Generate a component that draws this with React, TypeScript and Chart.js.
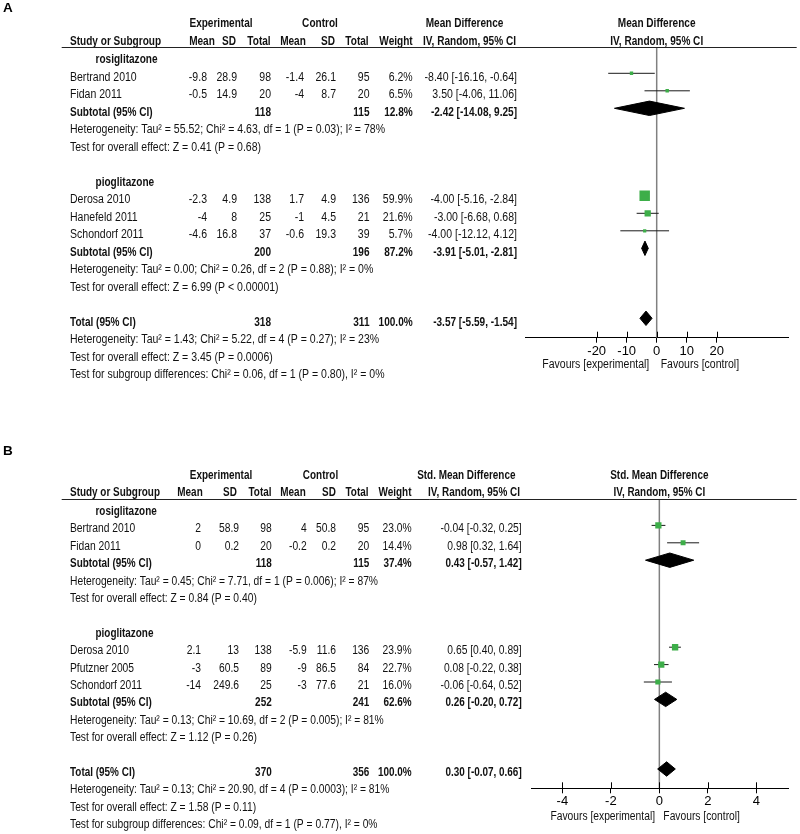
import React, { useEffect, useRef } from "react";
import { Chart, registerables } from "chart.js";
Chart.register(...registerables);

// ---------------- Panel A data (Mean Difference) ----------------
const aGroupNames = ["rosiglitazone", "pioglitazone"];
const aStudies = ["Bertrand 2010", "Fidan 2011", "Derosa 2010", "Hanefeld 2011", "Schondorf 2011"];
const aStudyGroup = [0, 0, 1, 1, 1];
const aExpMean = [-9.8, -0.5, -2.3, -4, -4.6];
const aExpSD = [28.9, 14.9, 4.9, 8, 16.8];
const aExpN = [98, 20, 138, 25, 37];
const aCtlMean = [-1.4, -4, 1.7, -1, -0.6];
const aCtlSD = [26.1, 8.7, 4.9, 4.5, 19.3];
const aCtlN = [95, 20, 136, 21, 39];
const aWeight = [6.2, 6.5, 59.9, 21.6, 5.7];
const aEst = [-8.4, 3.5, -4.0, -3.0, -4.0];
const aLo = [-16.16, -4.06, -5.16, -6.68, -12.12];
const aHi = [-0.64, 11.06, -2.84, 0.68, 4.12];
const aSubExpN = [118, 200];
const aSubCtlN = [115, 196];
const aSubWeight = [12.8, 87.2];
const aSubEst = [-2.42, -3.91];
const aSubLo = [-14.08, -5.01];
const aSubHi = [9.25, -2.81];
const aSubHet = [
  "Heterogeneity: Tau² = 55.52; Chi² = 4.63, df = 1 (P = 0.03); I² = 78%",
  "Heterogeneity: Tau² = 0.00; Chi² = 0.26, df = 2 (P = 0.88); I² = 0%",
];
const aSubTest = [
  "Test for overall effect: Z = 0.41 (P = 0.68)",
  "Test for overall effect: Z = 6.99 (P < 0.00001)",
];
const aTotal = { expN: 318, ctlN: 311, weight: 100.0, est: -3.57, lo: -5.59, hi: -1.54 };
const aTotalText = [
  "Heterogeneity: Tau² = 1.43; Chi² = 5.22, df = 4 (P = 0.27); I² = 23%",
  "Test for overall effect: Z = 3.45 (P = 0.0006)",
  "Test for subgroup differences: Chi² = 0.06, df = 1 (P = 0.80), I² = 0%",
];
const aTicks = [-20, -10, 0, 10, 20];

// ---------------- Panel B data (Std. Mean Difference) ----------------
const bGroupNames = ["rosiglitazone", "pioglitazone"];
const bStudies = ["Bertrand 2010", "Fidan 2011", "Derosa 2010", "Pfutzner 2005", "Schondorf 2011"];
const bStudyGroup = [0, 0, 1, 1, 1];
const bExpMean = [2, 0, 2.1, -3, -14];
const bExpSD = [58.9, 0.2, 13, 60.5, 249.6];
const bExpN = [98, 20, 138, 89, 25];
const bCtlMean = [4, -0.2, -5.9, -9, -3];
const bCtlSD = [50.8, 0.2, 11.6, 86.5, 77.6];
const bCtlN = [95, 20, 136, 84, 21];
const bWeight = [23.0, 14.4, 23.9, 22.7, 16.0];
const bEst = [-0.04, 0.98, 0.65, 0.08, -0.06];
const bLo = [-0.32, 0.32, 0.4, -0.22, -0.64];
const bHi = [0.25, 1.64, 0.89, 0.38, 0.52];
const bSubExpN = [118, 252];
const bSubCtlN = [115, 241];
const bSubWeight = [37.4, 62.6];
const bSubEst = [0.43, 0.26];
const bSubLo = [-0.57, -0.2];
const bSubHi = [1.42, 0.72];
const bSubHet = [
  "Heterogeneity: Tau² = 0.45; Chi² = 7.71, df = 1 (P = 0.006); I² = 87%",
  "Heterogeneity: Tau² = 0.13; Chi² = 10.69, df = 2 (P = 0.005); I² = 81%",
];
const bSubTest = [
  "Test for overall effect: Z = 0.84 (P = 0.40)",
  "Test for overall effect: Z = 1.12 (P = 0.26)",
];
const bTotal = { expN: 370, ctlN: 356, weight: 100.0, est: 0.3, lo: -0.07, hi: 0.66 };
const bTotalText = [
  "Heterogeneity: Tau² = 0.13; Chi² = 20.90, df = 4 (P = 0.0003); I² = 81%",
  "Test for overall effect: Z = 1.58 (P = 0.11)",
  "Test for subgroup differences: Chi² = 0.09, df = 1 (P = 0.77), I² = 0%",
];
const bTicks = [-4, -2, 0, 2, 4];

// ---------------- styling ----------------
const FONT = "'Liberation Sans Narrow', 'Liberation Sans', Arial, sans-serif";
const FS = 12.5;
const GREEN = "#3dae49";
const TEXT = "#111";

type Panel = {
  letter: string; effectLabel: string;
  top: number; height: number; letterY: number;
  hdr1Y: number; hdr2Y: number; underlineY: number; axisY: number;
  rowY0: number; rowGap: number; markOff: number;
  areaL: number; areaR: number; xMin: number; xMax: number; ticks: number[];
  tickLen: number; tickUp: number; tickPad: number; tickFS: number;
  favDy: number; favGapL: number; favGapR: number; favFS: number;
  hetTargetW: number; boldTargetW: number;
  studyX: number; groupX: number; colX: number[]; hdr2X: number[];
  expHdrX: number; ctlHdrX: number; effHdrX: number;
  sqK: number; diamondHalf: number;
  groupNames: string[]; studies: string[]; group: number[];
  expMean: number[]; expSD: number[]; expN: number[];
  ctlMean: number[]; ctlSD: number[]; ctlN: number[];
  weight: number[]; est: number[]; lo: number[]; hi: number[];
  subExpN: number[]; subCtlN: number[]; subWeight: number[];
  subEst: number[]; subLo: number[]; subHi: number[];
  subHet: string[]; subTest: string[];
  total: { expN: number; ctlN: number; weight: number; est: number; lo: number; hi: number };
  totalText: string[];
};

const panelA: Panel = {
  letter: "A", effectLabel: "Mean Difference",
  top: 0, height: 400, letterY: 8.7,
  hdr1Y: 23.3, hdr2Y: 41.3, underlineY: 47.3, axisY: 337.7,
  rowY0: 77.3, rowGap: 17.5, markOff: 4,
  areaL: 525, areaR: 788.3, xMin: -43.9, xMax: 43.87, ticks: aTicks,
  tickLen: 5, tickUp: 6, tickPad: 1, tickFS: 13,
  favDy: 27.3, favGapL: 7.4, favGapR: 4, favFS: 12.5,
  hetTargetW: 315, boldTargetW: 82.7,
  studyX: 70, groupX: 95.5,
  colX: [207, 237, 271, 304, 336, 369.5, 412.7, 517],
  hdr2X: [202, 229, 259, 293, 328, 357, 396, 469.5],
  expHdrX: 221, ctlHdrX: 320, effHdrX: 464.5,
  sqK: 1.35, diamondHalf: 7.2,
  groupNames: aGroupNames, studies: aStudies, group: aStudyGroup,
  expMean: aExpMean, expSD: aExpSD, expN: aExpN,
  ctlMean: aCtlMean, ctlSD: aCtlSD, ctlN: aCtlN,
  weight: aWeight, est: aEst, lo: aLo, hi: aHi,
  subExpN: aSubExpN, subCtlN: aSubCtlN, subWeight: aSubWeight,
  subEst: aSubEst, subLo: aSubLo, subHi: aSubHi,
  subHet: aSubHet, subTest: aSubTest, total: aTotal, totalText: aTotalText,
};

const panelB: Panel = {
  letter: "B", effectLabel: "Std. Mean Difference",
  top: 420, height: 414, letterY: 451.5,
  hdr1Y: 476, hdr2Y: 492.7, underlineY: 498.7, axisY: 788.3,
  rowY0: 529, rowGap: 17.4, markOff: 3.6,
  areaL: 531.6, areaR: 788.3, xMin: -5.27, xMax: 5.32, ticks: bTicks,
  tickLen: 5, tickUp: 6, tickPad: 0, tickFS: 13,
  favDy: 28.7, favGapL: 4.3, favGapR: 4, favFS: 12.5,
  hetTargetW: 308, boldTargetW: 81.7,
  studyX: 70, groupX: 95.5,
  colX: [201, 239, 271.7, 306.7, 336, 369.3, 411.7, 521.7],
  hdr2X: [190, 230, 260, 293, 329, 357, 395, 474],
  expHdrX: 221, ctlHdrX: 320.5, effHdrX: 466.3,
  sqK: 1.3, diamondHalf: 7.2,
  groupNames: bGroupNames, studies: bStudies, group: bStudyGroup,
  expMean: bExpMean, expSD: bExpSD, expN: bExpN,
  ctlMean: bCtlMean, ctlSD: bCtlSD, ctlN: bCtlN,
  weight: bWeight, est: bEst, lo: bLo, hi: bHi,
  subExpN: bSubExpN, subCtlN: bSubCtlN, subWeight: bSubWeight,
  subEst: bSubEst, subLo: bSubLo, subHi: bSubHi,
  subHet: bSubHet, subTest: bSubTest, total: bTotal, totalText: bTotalText,
};

function rowsFor(groups: number[], nGroups: number) {
  let r = -1;
  const groupRow: number[] = [], subRow: number[] = [], hetRow: number[] = [], testRow: number[] = [];
  const studyRow: number[] = new Array(groups.length).fill(0);
  for (let g = 0; g < nGroups; g++) {
    groupRow.push(r);
    r++;
    groups.forEach((gg, i) => {
      if (gg === g) { studyRow[i] = r; r++; }
    });
    subRow.push(r); hetRow.push(r + 1); testRow.push(r + 2);
    r += 4;
  }
  return { groupRow, studyRow, subRow, hetRow, testRow, totalRow: r, totalTextRows: [r + 1, r + 2, r + 3] };
}

const pct = (w: number) => w.toFixed(1) + "%";
const ci = (e: number, l: number, h: number) => `${e.toFixed(2)} [${l.toFixed(2)}, ${h.toFixed(2)}]`;

function makePlugin(p: Panel) {
  return {
    id: "forestTable" + p.letter,
    afterDraw(chart: any) {
      const ctx: CanvasRenderingContext2D = chart.ctx;
      const ys = chart.scales.y;
      const xs = chart.scales.x;
      const T = p.top;
      const L = rowsFor(p.group, p.groupNames.length);
      const rowY = (r: number) => ys.getPixelForValue(r) + p.markOff;
      ctx.save();
      ctx.font = `${FS}px ${FONT}`;
      const sx = p.hetTargetW / ctx.measureText(p.subHet[0]).width;
      ctx.font = `bold ${FS}px ${FONT}`;
      const sxb = p.boldTargetW / ctx.measureText("Subtotal (95% CI)").width;
      const txt = (s: string, x: number, y: number, align: CanvasTextAlign, bold = false, size = FS) => {
        ctx.save();
        ctx.font = `${bold ? "bold " : ""}${size}px ${FONT}`;
        ctx.textAlign = align;
        ctx.textBaseline = "middle";
        ctx.fillStyle = TEXT;
        ctx.translate(x, y);
        ctx.scale(bold ? sxb : sx, 1);
        ctx.fillText(s, 0, 0);
        ctx.restore();
      };
      // panel letter
      ctx.save();
      ctx.font = "bold 13.5px 'Liberation Sans', Arial, sans-serif";
      ctx.fillStyle = "#000";
      ctx.textBaseline = "middle";
      ctx.fillText(p.letter, 3, p.letterY - T);
      ctx.restore();

      // headers
      const h1 = p.hdr1Y - T, h2 = p.hdr2Y - T;
      txt("Experimental", p.expHdrX, h1, "center", true);
      txt("Control", p.ctlHdrX, h1, "center", true);
      txt(p.effectLabel, p.effHdrX, h1, "center", true);
      const zero = xs.getPixelForValue(0);
      txt(p.effectLabel, zero, h1, "center", true);
      txt("Study or Subgroup", p.studyX, h2, "left", true);
      const hdrs = ["Mean", "SD", "Total", "Mean", "SD", "Total", "Weight", "IV, Random, 95% CI"];
      hdrs.forEach((h, i) => txt(h, p.hdr2X[i], h2, "center", true));
      txt("IV, Random, 95% CI", zero, h2, "center", true);

      // header rule
      ctx.strokeStyle = "#222";
      ctx.lineWidth = 1;
      ctx.beginPath();
      const uy = Math.round(p.underlineY - T) + 0.5;
      ctx.moveTo(61.7, uy);
      ctx.lineTo(796.7, uy);
      ctx.stroke();

      // groups
      p.groupNames.forEach((gn, g) => {
        txt(gn, p.groupX, rowY(L.groupRow[g]), "left", true);
        p.studies.forEach((s, i) => {
          if (p.group[i] !== g) return;
          const y = rowY(L.studyRow[i]);
          txt(s, p.studyX, y, "left");
          const cells = [
            String(p.expMean[i]), String(p.expSD[i]), String(p.expN[i]),
            String(p.ctlMean[i]), String(p.ctlSD[i]), String(p.ctlN[i]),
            pct(p.weight[i]), ci(p.est[i], p.lo[i], p.hi[i]),
          ];
          cells.forEach((c, k) => txt(c, p.colX[k], y, "right"));
        });
        const ys2 = rowY(L.subRow[g]);
        txt("Subtotal (95% CI)", p.studyX, ys2, "left", true);
        txt(String(p.subExpN[g]), p.colX[2], ys2, "right", true);
        txt(String(p.subCtlN[g]), p.colX[5], ys2, "right", true);
        txt(pct(p.subWeight[g]), p.colX[6], ys2, "right", true);
        txt(ci(p.subEst[g], p.subLo[g], p.subHi[g]), p.colX[7], ys2, "right", true);
        txt(p.subHet[g], p.studyX, rowY(L.hetRow[g]), "left");
        txt(p.subTest[g], p.studyX, rowY(L.testRow[g]), "left");
      });
      const yt = rowY(L.totalRow);
      txt("Total (95% CI)", p.studyX, yt, "left", true);
      txt(String(p.total.expN), p.colX[2], yt, "right", true);
      txt(String(p.total.ctlN), p.colX[5], yt, "right", true);
      txt(pct(p.total.weight), p.colX[6], yt, "right", true);
      txt(ci(p.total.est, p.total.lo, p.total.hi), p.colX[7], yt, "right", true);
      p.totalText.forEach((t, k) => txt(t, p.studyX, rowY(L.totalTextRows[k]), "left"));

      // upper halves of axis tick marks
      ctx.strokeStyle = "#000";
      ctx.lineWidth = 1;
      ctx.beginPath();
      for (const t of xs.ticks) {
        const px = Math.round(xs.getPixelForValue(t.value)) + 0.5;
        ctx.moveTo(px, xs.top - p.tickUp);
        ctx.lineTo(px, xs.top);
      }
      ctx.stroke();

      // favours labels
      const fy = xs.top + p.favDy;
      txt("Favours [experimental]", zero - p.favGapL, fy, "right", false, p.favFS);
      txt("Favours [control]", zero + p.favGapR, fy, "left", false, p.favFS);
      ctx.restore();
    },
  };
}

function ForestPanel({ p }: { p: Panel }) {
  const ref = useRef<HTMLCanvasElement>(null);
  useEffect(() => {
    if (!ref.current) return;
    const L = rowsFor(p.group, p.groupNames.length);
    const base = p.rowY0 - p.markOff;
    const yTop = (p.underlineY - base) / p.rowGap;
    const yBot = (p.axisY - base) / p.rowGap;
    const hh = p.diamondHalf / p.rowGap;
    const datasets: any[] = [];
    datasets.push({
      type: "scatter",
      data: p.est.map((e, i) => ({ x: e, y: L.studyRow[i] })),
      pointStyle: "rect",
      pointRadius: p.weight.map((w) => (p.sqK * Math.sqrt(w)) / Math.SQRT2),
      pointBackgroundColor: GREEN,
      pointBorderWidth: 0,
      borderColor: GREEN,
      backgroundColor: GREEN,
      showLine: false,
    });
    const dia = (lo: number, e: number, hi: number, r: number) => ({
      type: "line",
      data: [
        { x: lo, y: r }, { x: e, y: r - hh }, { x: hi, y: r }, { x: e, y: r + hh }, { x: lo, y: r },
      ],
      fill: "shape",
      backgroundColor: "#000",
      borderColor: "#000",
      borderWidth: 1,
      pointRadius: 0,
      tension: 0,
    });
    p.subEst.forEach((e, g) => datasets.push(dia(p.subLo[g], e, p.subHi[g], L.subRow[g])));
    datasets.push(dia(p.total.lo, p.total.est, p.total.hi, L.totalRow));
    p.est.forEach((_, i) =>
      datasets.push({
        type: "line",
        data: [{ x: p.lo[i], y: L.studyRow[i] }, { x: p.hi[i], y: L.studyRow[i] }],
        borderColor: "#1a1a1a",
        borderWidth: 1,
        pointRadius: 0,
        fill: false,
      })
    );
    datasets.push({
      type: "line",
      data: [{ x: 0, y: yTop }, { x: 0, y: yBot }],
      borderColor: "#808080",
      borderWidth: 1.5,
      pointRadius: 0,
      fill: false,
    });
    const xAxisH = 40;
    const chart = new Chart(ref.current, {
      type: "scatter",
      data: { datasets },
      options: {
        animation: false,
        responsive: false,
        maintainAspectRatio: false,
        devicePixelRatio: 1,
        events: [],
        layout: {
          autoPadding: false,
          padding: {
            left: p.areaL,
            right: 800 - p.areaR,
            top: p.underlineY - p.top,
            bottom: p.height - (p.axisY - p.top) - xAxisH,
          },
        },
        plugins: { legend: { display: false }, tooltip: { enabled: false } },
        scales: {
          x: {
            type: "linear",
            min: p.xMin,
            max: p.xMax,
            afterBuildTicks: (s: any) => { s.ticks = p.ticks.map((v) => ({ value: v })); },
            afterFit: (s: any) => { s.height = xAxisH; },
            ticks: { color: "#000", font: { family: FONT, size: p.tickFS }, padding: p.tickPad, maxRotation: 0, autoSkip: false },
            grid: { display: true, drawOnChartArea: false, drawTicks: true, tickLength: p.tickLen, color: "#000", lineWidth: 1 },
            border: { display: true, color: "#000", width: 1 },
          },
          y: { type: "linear", display: false, reverse: true, min: yTop, max: yBot },
        },
      } as any,
      plugins: [makePlugin(p)],
    } as any);
    return () => chart.destroy();
  }, [p]);
  return (
    <div style={{ position: "absolute", left: 0, top: p.top, width: 800, height: p.height }}>
      <canvas ref={ref} width={800} height={p.height} style={{ display: "block" }} />
    </div>
  );
}

export default function App() {
  return (
    <div style={{ position: "absolute", left: 0, top: 0, width: 800, height: 834, background: "#fff" }}>
      <ForestPanel p={panelA} />
      <ForestPanel p={panelB} />
    </div>
  );
}
